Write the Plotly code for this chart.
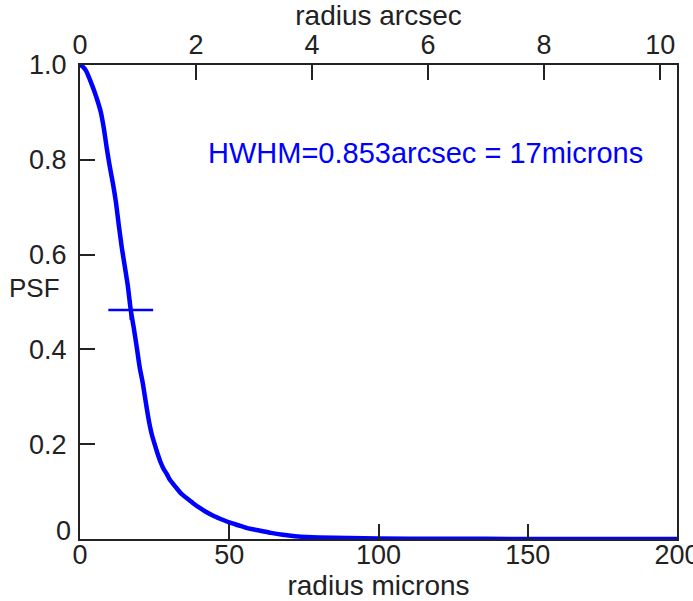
import plotly.graph_objects as go

# Radial PSF profile: radius in microns vs normalised PSF
radius_microns = [0, 1, 2, 3, 4, 5, 6, 7, 8, 9, 10, 11, 12, 13, 14, 15, 16, 17, 18, 19,
                  20, 21, 22, 23, 24, 25, 26, 27, 28, 29, 30, 32, 34, 36, 38, 40, 42, 45,
                  48, 50, 53, 56, 60, 64, 68, 72, 76, 80, 90, 100, 120, 150, 200]
psf = [1.000, 0.996, 0.988, 0.974, 0.958, 0.941, 0.922, 0.900, 0.866, 0.823, 0.785,
       0.751, 0.712, 0.662, 0.615, 0.575, 0.535, 0.483, 0.446, 0.405, 0.362, 0.330,
       0.290, 0.252, 0.222, 0.200, 0.180, 0.162, 0.148, 0.138, 0.126, 0.110, 0.095,
       0.085, 0.075, 0.066, 0.058, 0.048, 0.040, 0.035, 0.029, 0.023, 0.018, 0.013,
       0.009, 0.006, 0.004, 0.003, 0.002, 0.001, 0.0005, 0.0002, 0.0001]

hwhm_arcsec = 0.853
hwhm_microns = 17
hwhm_psf = 0.483

x_range_microns = [0, 200]
x_range_arcsec = [0, 10.29]
arcsec_ticks = [0, 2, 4, 6, 8, 10]
micron_ticks = [0, 50, 100, 150, 200]
psf_ticks = [0.2, 0.4, 0.6, 0.8, 1.0]
psf_ticklabels = ["0.2", "0.4", "0.6", "0.8", "1.0"]

BLUE = "#0000ff"
AXIS = "#222222"
FONT = "Liberation Sans, Arial, sans-serif"

fig = go.Figure()
fig.add_trace(go.Scatter(x=radius_microns, y=psf, mode="lines",
                         line=dict(color=BLUE, width=4.5, shape="spline", smoothing=0.6),
                         showlegend=False, hoverinfo="skip"))
fig.add_trace(go.Scatter(x=[hwhm_microns], y=[hwhm_psf], mode="markers",
                         marker=dict(symbol="line-ew", size=32,
                                     line=dict(color=BLUE, width=2.5)),
                         showlegend=False))
fig.add_trace(go.Scatter(x=[hwhm_microns], y=[hwhm_psf], mode="markers",
                         marker=dict(symbol="line-ns", size=14,
                                     line=dict(color=BLUE, width=2.5)),
                         showlegend=False))
# invisible trace to anchor the arcsec axis
fig.add_trace(go.Scatter(x=[0], y=[0], xaxis="x2", mode="markers",
                         marker=dict(opacity=0), showlegend=False, hoverinfo="skip"))

axis_common = dict(showgrid=False, zeroline=False, showline=True, linecolor=AXIS,
                   linewidth=2, ticks="inside", ticklen=15, tickwidth=2,
                   tickcolor=AXIS, automargin=False, ticklabeloverflow="allow",
                   tickfont=dict(family=FONT, size=27, color="#222"))

fig.update_layout(
    width=693, height=601,
    margin=dict(l=80, r=16, t=65, b=62),
    paper_bgcolor="white", plot_bgcolor="white",
    font=dict(family=FONT, color="#222"),
    xaxis=dict(range=x_range_microns, tickvals=micron_ticks, ticklabelstandoff=-9,
               title=dict(text="radius microns", font=dict(family=FONT, size=28),
                          standoff=4),
               **axis_common),
    xaxis2=dict(range=x_range_arcsec, tickvals=arcsec_ticks, overlaying="x",
                side="top", anchor="y", ticklabelstandoff=-2,
                title=dict(text="radius arcsec", font=dict(family=FONT, size=28),
                           standoff=0),
                **axis_common),
    yaxis=dict(range=[0, 1], tickvals=psf_ticks, ticktext=psf_ticklabels,
               mirror=True, ticklabelstandoff=6, **axis_common),
    annotations=[
        dict(text="PSF", xref="paper", yref="paper", x=0, y=0.53, xanchor="right",
             yanchor="middle", xshift=-18, showarrow=False,
             font=dict(family=FONT, size=26, color="#222")),
        dict(text="0", xref="paper", yref="y", x=0, y=0, xanchor="right",
             yanchor="middle", xshift=-7, yshift=8, showarrow=False,
             font=dict(family=FONT, size=27, color="#222")),
        dict(text=f"HWHM={hwhm_arcsec}arcsec = {hwhm_microns}microns",
             xref="paper", yref="paper", x=0.579, y=0.814, xanchor="center",
             yanchor="middle", showarrow=False,
             font=dict(family=FONT, size=29, color=BLUE)),
    ],
)

fig.write_html("out.html")
